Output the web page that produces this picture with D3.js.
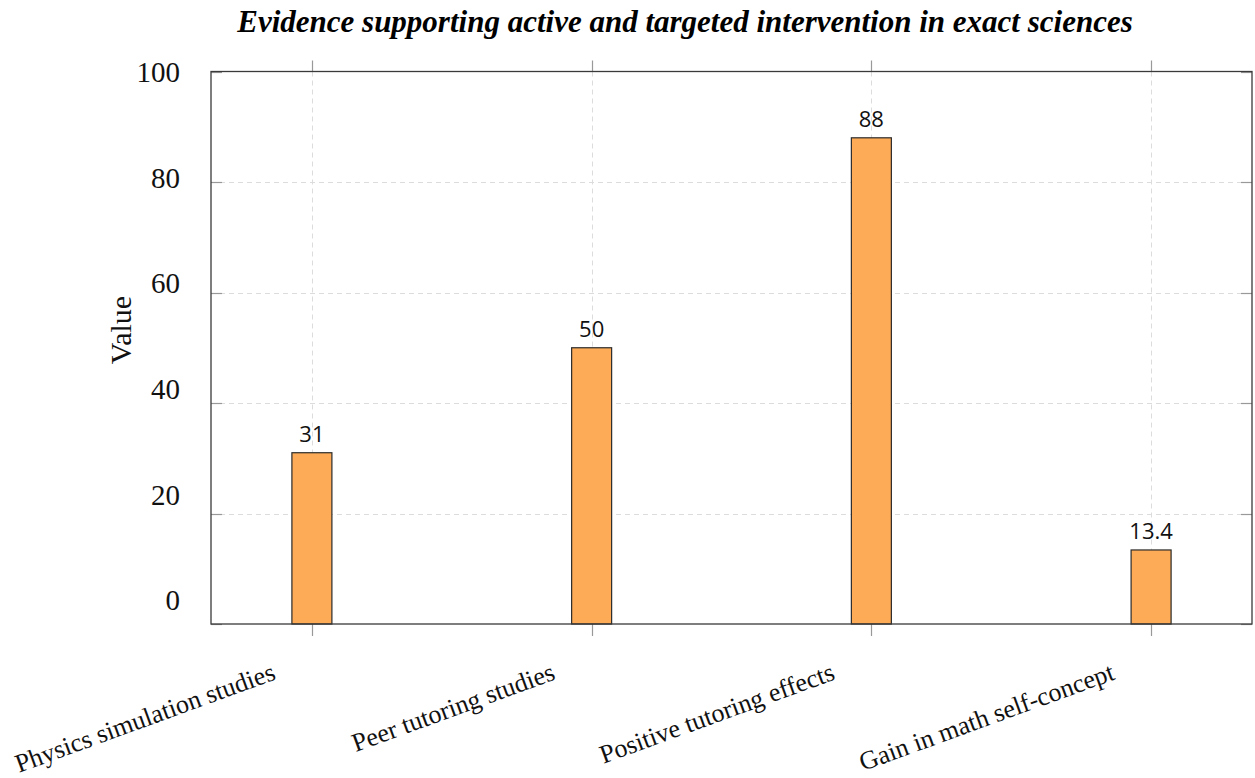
<!DOCTYPE html>
<html>
<head>
<meta charset="utf-8">
<script src="https://cdn.jsdelivr.net/npm/d3@7"></script>
<style>
  html, body { margin: 0; padding: 0; background: #fff; }
  svg { display: block; }
</style>
</head>
<body>
<svg id="chart" width="1255" height="778"></svg>
<script>
// Evidence figures for interventions in the exact sciences
const categories = [
  "Physics simulation studies",
  "Peer tutoring studies",
  "Positive tutoring effects",
  "Gain in math self-concept"
];
const values = [31, 50, 88, 13.4];
const valueLabels = ["31", "50", "88", "13.4"];
const yTicks = [0, 20, 40, 60, 80, 100];
const yTickLabels = ["0", "20", "40", "60", "80", "100"];

const chartTitle = "Evidence supporting active and targeted intervention in exact sciences";
const yTitle = "Value";

const plot = { left: 211, right: 1252, top: 71.5, bottom: 624 };
const serif = "'Liberation Serif', 'Times New Roman', serif";
const sans = "'Open Sans', 'Noto Sans', sans-serif";

const svg = d3.select("#chart");

const x = d3.scalePoint()
  .domain(categories)
  .range([plot.left, plot.right])
  .padding(101 / 280);

const y = d3.scaleLinear().domain([0, 100]).range([plot.bottom, plot.top]);
// tick labels sit on a slightly compressed scale beside the axis
const yLabel = d3.scaleLinear().domain([0, 100]).range([600, 72]);

const barWidth = 40;

// grid
const grid = svg.append("g").attr("stroke", "#dcdcdc").attr("stroke-width", 1)
  .attr("stroke-dasharray", "5,4").attr("fill", "none");
grid.selectAll("line.h").data(yTicks.filter(d => d > 0 && d < 100)).join("line")
  .attr("x1", plot.left).attr("x2", plot.right)
  .attr("y1", d => Math.round(y(d)) + 0.5).attr("y2", d => Math.round(y(d)) + 0.5);
grid.selectAll("line.v").data(categories).join("line")
  .attr("x1", d => Math.round(x(d)) + 0.5).attr("x2", d => Math.round(x(d)) + 0.5)
  .attr("y1", plot.top).attr("y2", plot.bottom);

// ticks
const ticks = svg.append("g").attr("stroke", "#999").attr("stroke-width", 1.2);
ticks.selectAll("line.yl").data(yTicks).join("line")
  .attr("x1", plot.left).attr("x2", plot.left + 11)
  .attr("y1", d => Math.round(y(d)) + 0.5).attr("y2", d => Math.round(y(d)) + 0.5);
ticks.selectAll("line.yr").data(yTicks).join("line")
  .attr("x1", plot.right - 11).attr("x2", plot.right)
  .attr("y1", d => Math.round(y(d)) + 0.5).attr("y2", d => Math.round(y(d)) + 0.5);
ticks.selectAll("line.xb").data(categories).join("line")
  .attr("x1", d => Math.round(x(d)) + 0.5).attr("x2", d => Math.round(x(d)) + 0.5)
  .attr("y1", plot.bottom).attr("y2", plot.bottom + 12);
ticks.selectAll("line.xt").data(categories).join("line")
  .attr("x1", d => Math.round(x(d)) + 0.5).attr("x2", d => Math.round(x(d)) + 0.5)
  .attr("y1", plot.top - 11).attr("y2", plot.top);

// bars
svg.append("g").selectAll("rect").data(values).join("rect")
  .attr("x", (d, i) => x(categories[i]) - barWidth / 2)
  .attr("y", d => y(d))
  .attr("width", barWidth)
  .attr("height", d => y(0) - y(d))
  .attr("fill", "#fdab57")
  .attr("stroke", "#2b2b2b")
  .attr("stroke-width", 1.2);

// value labels
svg.append("g").selectAll("text").data(values).join("text")
  .attr("x", (d, i) => x(categories[i]))
  .attr("y", d => y(d) - 11)
  .attr("text-anchor", "middle")
  .attr("font-family", sans)
  .attr("font-size", 22)
  .attr("fill", "#111")
  .text((d, i) => valueLabels[i]);

// frame
svg.append("rect")
  .attr("x", plot.left).attr("y", plot.top)
  .attr("width", plot.right - plot.left).attr("height", plot.bottom - plot.top)
  .attr("fill", "none").attr("stroke", "#3a3a3a").attr("stroke-width", 1.3);

// y tick labels
svg.append("g").selectAll("text").data(yTicks).join("text")
  .attr("x", 180)
  .attr("y", d => yLabel(d))
  .attr("dy", "0.35em")
  .attr("text-anchor", "end")
  .attr("font-family", serif)
  .attr("font-size", 29)
  .attr("fill", "#111")
  .text((d, i) => yTickLabels[i]);

// x tick labels
svg.append("g").selectAll("text").data(categories).join("text")
  .attr("transform", d => `translate(${x(d) - 35},${plot.bottom + 55}) rotate(-20)`)
  .attr("text-anchor", "end")
  .attr("font-family", serif)
  .attr("font-size", 26)
  .attr("fill", "#111")
  .text(d => d);

// axis title
svg.append("text")
  .attr("transform", "translate(131,330) rotate(-90)")
  .attr("text-anchor", "middle")
  .attr("font-family", serif)
  .attr("font-size", 30)
  .attr("fill", "#111")
  .text(yTitle);

// chart title
svg.append("text")
  .attr("x", 685)
  .attr("y", 32)
  .attr("text-anchor", "middle")
  .attr("font-family", serif)
  .attr("font-size", 31)
  .attr("font-weight", "bold")
  .attr("font-style", "italic")
  .attr("fill", "#000")
  .text(chartTitle);
</script>
</body>
</html>
